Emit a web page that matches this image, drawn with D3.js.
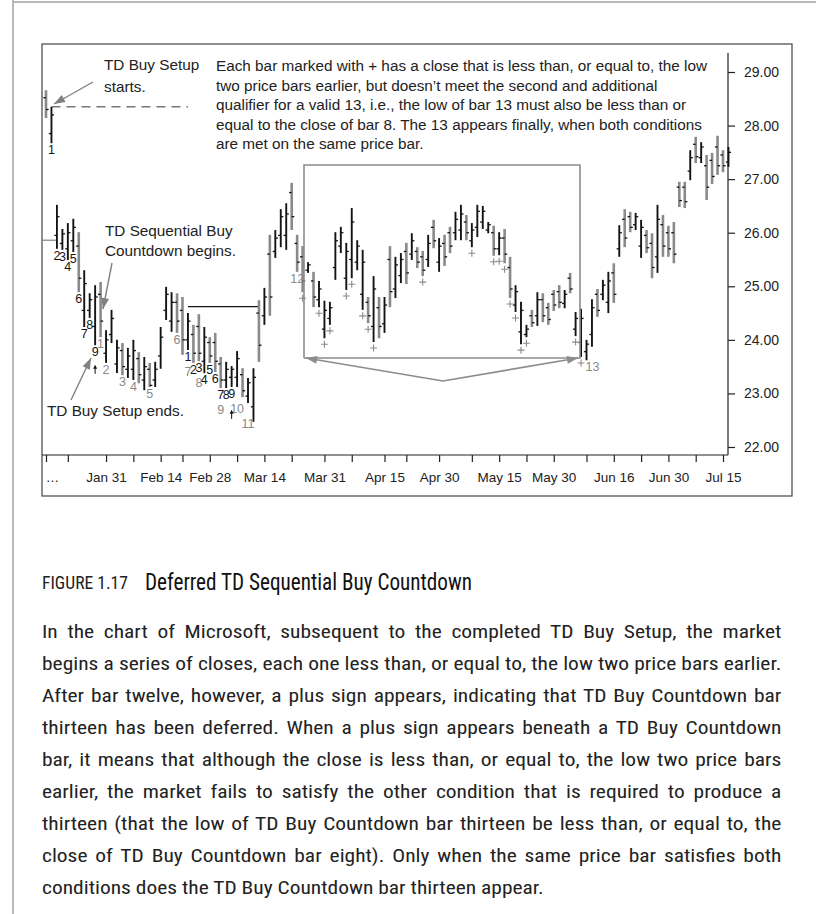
<!DOCTYPE html>
<html><head><meta charset="utf-8">
<script src="https://cdn.jsdelivr.net/npm/d3@7"></script>
<style>body{margin:0;background:#fff}</style>
</head><body>
<svg id="c" width="816" height="914"></svg>
<script>
// ---------- DATA ----------
const highs = [28.66,28.35,26.52,26.07,26.18,26.26,26.01,25.30,24.87,25.02,
25.08,24.18,24.56,24.00,23.94,23.85,24.00,23.77,23.68,23.57,
23.59,24.24,24.99,24.89,24.87,24.80,24.50,24.28,24.48,24.24,
24.05,24.13,23.68,23.59,23.51,23.79,23.47,23.29,23.47,24.74,
24.97,25.96,26.05,26.44,26.55,26.93,25.96,25.75,25.45,25.27,
25.10,24.73,24.71,26.01,26.11,25.81,26.46,25.86,25.68,24.80,
25.19,24.80,24.80,25.75,25.55,25.62,25.81,25.99,25.73,25.66,
25.96,26.24,25.90,25.96,26.11,26.39,26.52,26.33,26.18,26.52,
26.50,26.20,26.13,26.01,26.07,25.55,25.02,24.71,24.28,24.56,
24.89,24.87,24.69,24.93,25.02,24.93,25.25,24.52,24.58,24.00,
24.76,24.95,25.12,25.27,25.43,26.14,26.44,26.39,26.37,26.24,
26.05,25.99,26.52,26.33,26.13,26.20,26.95,26.95,27.54,27.79,
27.69,27.45,27.49,27.81,27.54,27.60];
const lows = [28.14,27.67,25.70,25.68,25.49,25.64,24.89,24.24,24.41,23.90,
24.05,23.57,23.94,23.38,23.34,23.29,23.25,23.19,23.06,23.12,
23.12,23.46,24.37,24.15,24.13,23.72,23.81,23.57,23.60,23.38,
23.57,23.40,23.10,23.10,23.12,23.12,22.93,22.82,22.47,23.59,
24.28,24.45,25.53,25.73,25.68,26.05,25.27,24.89,25.25,24.61,
24.61,24.03,24.28,25.12,25.62,24.93,25.15,25.30,24.56,24.31,
23.96,24.03,24.13,24.61,24.78,25.06,25.04,25.49,25.34,25.19,
25.36,25.71,25.27,25.38,25.62,25.86,25.86,25.86,25.73,25.92,
26.07,25.99,25.57,25.58,25.43,24.78,24.52,23.92,24.05,24.24,
24.26,24.33,24.28,24.54,24.59,24.59,24.87,24.07,23.68,23.62,
23.87,24.43,24.74,24.50,24.69,25.55,25.73,26.01,26.05,25.53,
25.62,25.15,25.25,25.55,25.55,25.43,26.48,26.46,26.98,27.30,
27.30,26.61,26.91,27.08,27.13,27.23];
const opens = [28.52,27.85,25.95,25.80,25.70,25.85,25.75,24.55,24.55,24.25,
24.85,23.75,24.10,23.55,23.80,23.45,23.45,23.65,23.25,23.45,
23.25,23.70,24.55,24.35,24.70,24.55,24.00,24.10,24.25,23.60,
23.95,23.95,23.55,23.25,23.30,23.30,23.35,22.95,22.75,24.50,
24.45,25.60,25.65,25.95,25.95,26.75,25.80,25.55,25.30,25.10,
24.75,24.20,24.40,25.35,25.75,25.15,25.50,25.45,24.85,24.70,
24.25,24.60,24.30,25.50,24.95,25.20,25.65,25.60,25.65,25.55,
25.50,26.10,25.45,25.80,26.00,26.00,26.05,26.20,25.85,26.10,
26.20,26.05,26.00,25.70,25.90,25.35,24.65,24.15,24.10,24.45,
24.45,24.75,24.60,24.85,24.90,24.68,25.15,24.20,23.95,23.78,
24.10,24.85,24.85,24.70,25.25,25.70,26.25,26.30,26.15,25.75,
25.95,25.80,25.55,26.15,26.00,26.00,26.85,26.85,27.15,27.65,
27.40,27.25,27.35,27.60,27.45,27.32];
const closes = [28.30,28.20,26.30,25.98,26.00,26.10,25.15,25.05,24.75,24.80,
24.35,24.00,24.40,23.85,23.50,23.70,23.80,23.35,23.50,23.15,
23.45,24.05,24.85,24.70,24.35,24.00,24.35,23.75,23.75,24.05,
23.70,23.60,23.25,23.45,23.45,23.65,23.05,23.20,23.30,23.90,
24.80,24.80,25.90,26.30,26.35,26.30,25.45,25.10,25.40,24.80,
24.95,24.55,24.60,25.85,26.00,25.65,26.20,25.75,25.45,24.45,
24.95,24.25,24.65,24.90,25.40,25.50,25.25,25.85,25.45,25.30,
25.80,25.85,25.75,25.55,25.75,26.25,26.35,26.00,26.05,26.40,
26.40,26.15,25.70,25.90,25.60,24.95,24.90,24.55,24.20,24.32,
24.75,24.45,24.38,24.65,24.70,24.85,24.95,24.40,24.40,23.92,
24.60,24.55,25.02,25.10,24.85,26.00,25.90,26.10,26.30,26.10,
25.72,25.35,26.25,25.75,25.70,25.60,26.60,26.58,27.40,27.42,
27.60,26.85,27.05,27.25,27.25,27.50];

const tickIdx    = [0, 11, 21, 30, 40, 51, 62, 72, 83, 93, 104, 114, 124];
const tickLabels = ["\u2026","Jan 31","Feb 14","Feb 28","Mar 14","Mar 31","Apr 15","Apr 30","May 15","May 30","Jun 16","Jun 30","Jul 15"];
const minorTickIdx = [4, 16, 25, 35, 45, 56, 66, 78, 88, 99, 109, 119];
const yTicks = [22, 23, 24, 25, 26, 27, 28, 29];

const setupIdx   = [1,2,3,4,5,6,7,8,9, 26,27,28,29,30,31,32,33,34];
const setupText  = ["1","2","3","4","5","6","7","8","9","1","2","3","4","5","6","7","8","9"];
const countIdx   = [10,11,14,16,19,24,26,28,32,35,37,46,99];
const countText  = ["1","2","3","4","5","6","7","8","9","10","11","12","13"];
const plusIdx    = [47,50,51,52,55,56,58,59,60,69,78,82,83,84,85,86,87,88,97,98];
const upArrowIdx = [9, 34];
const upArrowLevel = [23.44, 22.60];

// TDST / reference lines (price level, from index, to index)
const lineLevels = [25.86, 24.62, 28.35];
const lineFrom   = [-0.7, 26, 1];
const lineTo     = [2, 39, 26];

const noteLines = [
 "Each bar marked with + has a close that is less than, or equal to, the low",
 "two price bars earlier, but doesn\u2019t meet the second and additional",
 "qualifier for a valid 13, i.e., the low of bar 13 must also be less than or",
 "equal to the close of bar 8. The 13 appears finally, when both conditions",
 "are met on the same price bar."];

const bodyLines = [
 "In the chart of Microsoft, subsequent to the completed TD Buy Setup, the market",
 "begins a series of closes, each one less than, or equal to, the low two price bars earlier.",
 "After bar twelve, however, a plus sign appears, indicating that TD Buy Countdown bar",
 "thirteen has been deferred. When a plus sign appears beneath a TD Buy Countdown",
 "bar, it means that although the close is less than, or equal to, the low two price bars",
 "earlier, the market fails to satisfy the other condition that is required to produce a",
 "thirteen (that the low of TD Buy Countdown bar thirteen be less than, or equal to, the",
 "close of TD Buy Countdown bar eight). Only when the same price bar satisfies both",
 "conditions does the TD Buy Countdown bar thirteen appear."];

// ---------- DRAW ----------
const svg = d3.select("#c");
const BLACK = "#141414", GRAY = "#8a8a8a", TXT = "#222";
const SANS = "'Liberation Sans', Arial, Helvetica, sans-serif";
const NARROW = "'Liberation Sans Narrow','Roboto Condensed','DejaVu Sans Condensed','Arial Narrow',sans-serif";

svg.append("rect").attr("width",816).attr("height",914).attr("fill","#fff");
// page frame
svg.append("line").attr("x1",13).attr("x2",13).attr("y1",0).attr("y2",914).attr("stroke","#b8b8b8").attr("stroke-width",2);
svg.append("line").attr("x1",13).attr("x2",816).attr("y1",2).attr("y2",2).attr("stroke","#b8b8b8").attr("stroke-width",2);

// chart box
svg.append("rect").attr("x",42).attr("y",44).attr("width",750).attr("height",452)
  .attr("fill","none").attr("stroke","#444").attr("stroke-width",1.2);

const x = d3.scaleLinear().domain([0,124]).range([46,723]);
const y = d3.scaleLinear().domain([22,29]).range([447,72]);

// axes
svg.append("line").attr("x1",42).attr("x2",728).attr("y1",455).attr("y2",455).attr("stroke","#222").attr("stroke-width",1.2);
svg.append("line").attr("x1",728).attr("x2",728).attr("y1",53).attr("y2",455).attr("stroke","#222").attr("stroke-width",1.2);

const labelMap = new Map(tickIdx.map((d,i)=>[d,tickLabels[i]]));
const xAxis = d3.axisBottom(x).tickValues(tickIdx.concat(minorTickIdx))
  .tickSize(7).tickPadding(10).tickFormat(d => labelMap.get(d) || "");
const gx = svg.append("g").attr("transform","translate(0,455)").call(xAxis);
gx.select(".domain").remove();
gx.selectAll(".tick line").attr("stroke","#222").attr("stroke-width",1.2);
gx.selectAll(".tick text").attr("font-family",SANS).attr("font-size",13.5).attr("fill",TXT)
  .attr("dx", d => d===0 ? 6 : 0);

const yAxis = d3.axisRight(y).tickValues(yTicks).tickSize(7).tickPadding(9).tickFormat(d3.format(".2f"));
const gy = svg.append("g").attr("transform","translate(728,0)").call(yAxis);
gy.select(".domain").remove();
gy.selectAll(".tick line").attr("stroke","#222").attr("stroke-width",1.2);
gy.selectAll(".tick text").attr("font-family",SANS).attr("font-size",14).attr("fill",TXT);

// reference lines
const refStyles = [{c:GRAY,w:1.3,d:null},{c:BLACK,w:1.2,d:null},{c:"#777",w:1.6,d:"9,6"}];
lineLevels.forEach((lv,i)=>{
  svg.append("line").attr("x1",i===0?42:x(lineFrom[i])).attr("x2",x(lineTo[i]))
    .attr("y1",y(lv)).attr("y2",y(lv)).attr("stroke",refStyles[i].c)
    .attr("stroke-width",refStyles[i].w).attr("stroke-dasharray",refStyles[i].d);
});

// bars
const bars = highs.map((h,i)=>({i,h,l:lows[i],o:opens[i],c:closes[i]}));
const gb = svg.append("g");
bars.forEach(b=>{
  const up = b.c >= b.o;
  const cx = x(b.i);
  gb.append("line").attr("x1",cx).attr("x2",cx).attr("y1",y(b.h)).attr("y2",y(b.l))
    .attr("stroke", up?BLACK:GRAY).attr("stroke-width", up?1.9:2.6);
  gb.append("line").attr("x1",cx-2.6).attr("x2",cx).attr("y1",y(b.o)).attr("y2",y(b.o))
    .attr("stroke",BLACK).attr("stroke-width",1.3);
  gb.append("line").attr("x1",cx).attr("x2",cx+2.6).attr("y1",y(b.c)).attr("y2",y(b.c))
    .attr("stroke",BLACK).attr("stroke-width",1.3);
});

// count labels with simple collision avoidance
const lab = svg.append("g").attr("font-family",SANS).attr("font-size",12.5).attr("text-anchor","middle");
const placed = [];
function putLabel(txt, cx, base, col, avoid){
  const el = lab.append("text").attr("x",cx).attr("fill",col).text(txt);
  const w = el.node().getComputedTextLength();
  let b = base, moved = true, guard = 0;
  while (avoid && moved && guard++ < 10) {
    moved = false;
    for (const p of placed) {
      const ox = Math.min(cx+w/2, p.x1) - Math.max(cx-w/2, p.x0);
      const oy = Math.min(b, p.y1) - Math.max(b-9.5, p.y0);
      if (ox > 2 && oy > 1) { b = p.y1 + 15; moved = true; }
    }
  }
  el.attr("y", b);
  placed.push({x0:cx-w/2, x1:cx+w/2, y0:b-9.5, y1:b});
}
setupIdx.forEach((ix,k)=> putLabel(setupText[k], x(ix), y(lows[ix])+11, BLACK, false));
countIdx.forEach((ix,k)=>{
  const dx = countText[k]==="13" ? 6 : 0;
  putLabel(countText[k], x(ix)+dx, y(lows[ix])+11, GRAY, true);
});
plusIdx.forEach(ix=>{
  const py = y(lows[ix])+6, px = x(ix);
  svg.append("path").attr("d",`M${px-3.5},${py}H${px+3.5}M${px},${py-3.5}V${py+3.5}`)
    .attr("stroke",GRAY).attr("stroke-width",1.1);
});
upArrowIdx.forEach((ix,k)=>{
  const px = x(ix), py = y(upArrowLevel[k]);
  svg.append("path").attr("d",`M${px},${py+4}V${py-3}`).attr("stroke",BLACK).attr("stroke-width",1);
  svg.append("path").attr("d",`M${px-2},${py-1}L${px},${py-5}L${px+2},${py-1}Z`).attr("fill",BLACK);
});

// arrows
function arrow(x1,y1,x2,y2,col,w){
  svg.append("line").attr("x1",x1).attr("y1",y1).attr("x2",x2).attr("y2",y2).attr("stroke",col).attr("stroke-width",w);
  const a = Math.atan2(y2-y1,x2-x1), L=11, H=4;
  const bx = x2 - L*Math.cos(a), by = y2 - L*Math.sin(a);
  const px = -Math.sin(a)*H, py = Math.cos(a)*H;
  svg.append("path").attr("d",`M${x2},${y2}L${bx+px},${by+py}L${bx-px},${by-py}Z`).attr("fill",col);
}
arrow(93,82,54,104,"#808080",1.4);
arrow(112,263,103,309,"#808080",1.4);
arrow(71,400,91,358,"#808080",1.4);

// highlight box
svg.append("path").attr("d","M304,358V165H580V358H304").attr("fill","none").attr("stroke","#8c8c8c").attr("stroke-width",1.6);
arrow(443,381,306,358,"#8c8c8c",1.6);
arrow(443,381,578,358,"#8c8c8c",1.6);

// annotations
const ann = svg.append("g").attr("font-family",SANS).attr("font-size",15.3).attr("fill",TXT);
ann.append("text").attr("x",104).attr("y",70).text("TD Buy Setup");
ann.append("text").attr("x",104).attr("y",92).text("starts.");
ann.append("text").attr("x",105).attr("y",235.5).text("TD Sequential Buy");
ann.append("text").attr("x",105).attr("y",255.5).text("Countdown begins.");
ann.append("text").attr("x",47).attr("y",415.5).text("TD Buy Setup ends.");
noteLines.forEach((t,i)=>ann.append("text").attr("x",216).attr("y",71+i*19.5).text(t));

// caption
svg.append("text").attr("x",42).attr("y",589).attr("font-family",NARROW).attr("font-size",17.5)
  .attr("fill",TXT).attr("textLength",86).attr("lengthAdjust","spacingAndGlyphs").text("FIGURE 1.17");
svg.append("text").attr("x",145).attr("y",590).attr("font-family",NARROW).attr("font-size",23)
  .attr("fill","#111").attr("textLength",327).attr("lengthAdjust","spacingAndGlyphs").text("Deferred TD Sequential Buy Countdown");

// body text, justified; glyphs widened uniformly so the tightest line fits naturally
const body = svg.append("g").attr("font-family",NARROW).attr("font-size",18).attr("fill",TXT);
const TARGET = 740;
const els = bodyLines.map((t,i)=> body.append("g").append("text").attr("x",0).attr("y",0).text(t));
const widths = els.map(e=>e.node().getComputedTextLength());
const k = Math.min(1.3, d3.min(widths.slice(0,-1), w => TARGET/w) * 0.995);
els.forEach((el,i)=>{
  const g = d3.select(el.node().parentNode);
  g.attr("transform",`translate(42,${638+i*32}) scale(${k},1)`);
  if (i < bodyLines.length-1) {
    const t = bodyLines[i];
    const nSp = (t.match(/ /g)||[]).length;
    el.attr("word-spacing", (TARGET/k - widths[i]) / nSp);
  }
});
</script>
</body></html>
